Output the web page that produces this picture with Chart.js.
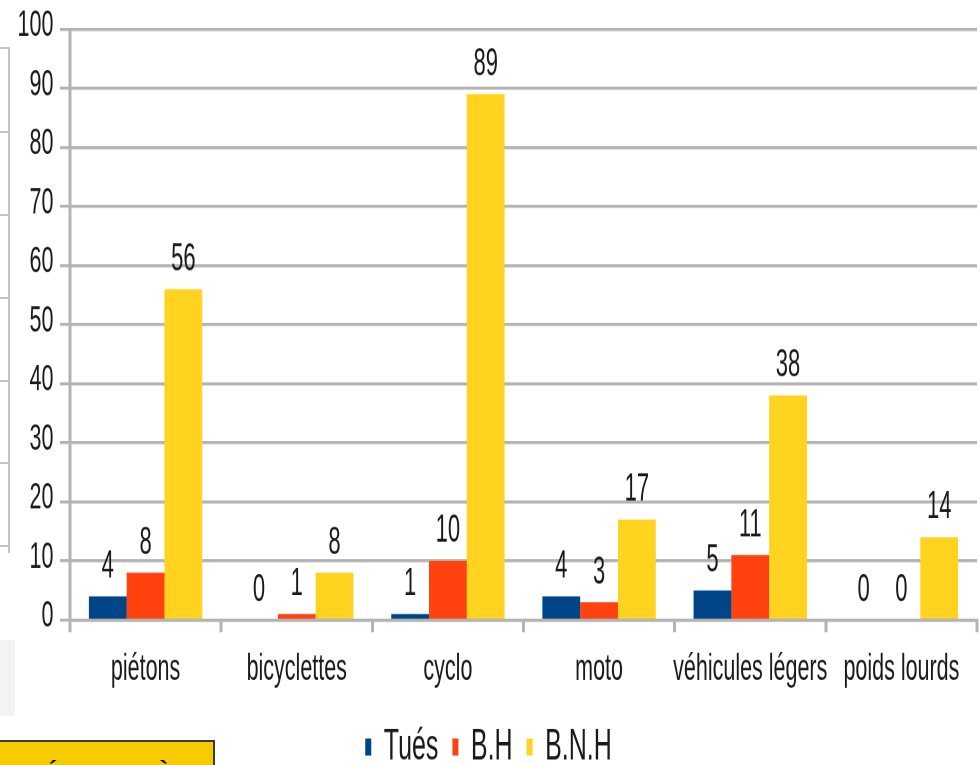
<!DOCTYPE html>
<html><head><meta charset="utf-8">
<script src="https://cdn.jsdelivr.net/npm/chart.js@4.4.1/dist/chart.umd.min.js"></script>
<style>
html,body{margin:0;padding:0;background:#fff;width:979px;height:765px;overflow:hidden;position:relative}
#wrap{position:absolute;left:0;top:0;width:979px;height:437.14px;transform:scaleY(1.75);transform-origin:0 0}
.art{position:absolute;pointer-events:none}
#vline{left:8px;top:47px;width:2px;height:506px;background:#c4c4c4}
.tk{left:0;width:9px;height:2px;background:#c4c4c4}
#greybox{left:0;top:640px;width:15px;height:76px;background:#f3f3f3}
#ybox{left:-2px;top:740px;width:217px;height:40px;background:#f6cc00;border:2px solid #3a3a3a;overflow:hidden;box-sizing:border-box}
#ybox span{position:absolute;left:-2px;top:17px;line-height:1;font:bold 26px 'Liberation Sans',Arial,sans-serif;color:#111;white-space:nowrap;letter-spacing:1px}
</style></head><body>
<div id="wrap"><canvas id="c"></canvas></div>
<div class="art" id="vline"></div>
<div class="art tk" style="top:47px"></div>
<div class="art tk" style="top:131px"></div>
<div class="art tk" style="top:214px"></div>
<div class="art tk" style="top:297px"></div>
<div class="art tk" style="top:380px"></div>
<div class="art tk" style="top:462px"></div>
<div class="art tk" style="top:545px"></div>
<div class="art" id="greybox"></div>
<div class="art" id="ybox"><span>RITÉ ROUTIÈRE</span></div>
<script>
const categories = ['piétons', 'bicyclettes', 'cyclo', 'moto', 'véhicules légers', 'poids lourds'];
const seriesNames = ['Tués', 'B.H', 'B.N.H'];
const tues = [4, 0, 1, 4, 5, 0];
const bh = [8, 1, 10, 3, 11, 0];
const bnh = [56, 8, 89, 17, 38, 14];
const yTicks = [0, 10, 20, 30, 40, 50, 60, 70, 80, 90, 100];

const FONT = "'Liberation Sans', Arial, sans-serif";
const TXT = '#1a1a1a';
const GRID = '#b3b3b3';

const valueLabels = {
  id: 'valueLabels',
  afterDatasetsDraw(chart) {
    const ctx = chart.ctx;
    ctx.save();
    ctx.font = '22px ' + FONT;
    ctx.fillStyle = TXT;
    ctx.textAlign = 'center';
    ctx.textBaseline = 'alphabetic';
    chart.data.datasets.forEach((ds, i) => {
      const meta = chart.getDatasetMeta(i);
      meta.data.forEach((el, j) => {
        ctx.fillText(String(ds.data[j]), el.x, el.y - 10.9);
      });
    });
    ctx.restore();
  }
};

new Chart(document.getElementById('c'), {
  type: 'bar',
  data: {
    labels: categories,
    datasets: [
      { label: seriesNames[0], data: tues, backgroundColor: '#004586' },
      { label: seriesNames[1], data: bh, backgroundColor: '#ff420e' },
      { label: seriesNames[2], data: bnh, backgroundColor: '#ffd320' }
    ]
  },
  options: {
    responsive: true,
    maintainAspectRatio: false,
    animation: false,
    devicePixelRatio: 2,
    layout: { padding: { top: 16.6, right: 2, left: 0, bottom: -12.3 } },
    datasets: { bar: { categoryPercentage: 0.75, barPercentage: 1.0 } },
    plugins: {
      tooltip: { enabled: false },
      legend: {
        position: 'bottom',
        labels: {
          font: { family: FONT, size: 25 },
          color: TXT,
          boxWidth: 6,
          boxHeight: 9.7,
          padding: 14
        }
      }
    },
    scales: {
      x: {
        afterFit(scale) { scale.height = 46.1; },
        grid: {
          offset: true,
          drawOnChartArea: true,
          color: (c) => (c.index === 0 || c.index === categories.length) ? GRID : 'rgba(0,0,0,0)',
          tickColor: GRID,
          lineWidth: 3,
          tickLength: 6.9
        },
        border: { display: true, color: GRID, width: 1.7 },
        ticks: { font: { family: FONT, size: 21.5 }, color: TXT, padding: 8.5, maxRotation: 0, autoSkip: false }
      },
      y: {
        min: 0,
        max: 100,
        afterFit(scale) { scale.width = 70; },
        afterBuildTicks(scale) { scale.ticks = yTicks.map(v => ({ value: v })); },
        grid: { color: GRID, lineWidth: 1.7, tickLength: 10 },
        border: { display: false },
        ticks: { font: { family: FONT, size: 21.5, lineHeight: 0.93 }, color: TXT, padding: 6.6, labelOffset: -2 }
      }
    }
  },
  plugins: [valueLabels]
});
</script>
</body></html>
